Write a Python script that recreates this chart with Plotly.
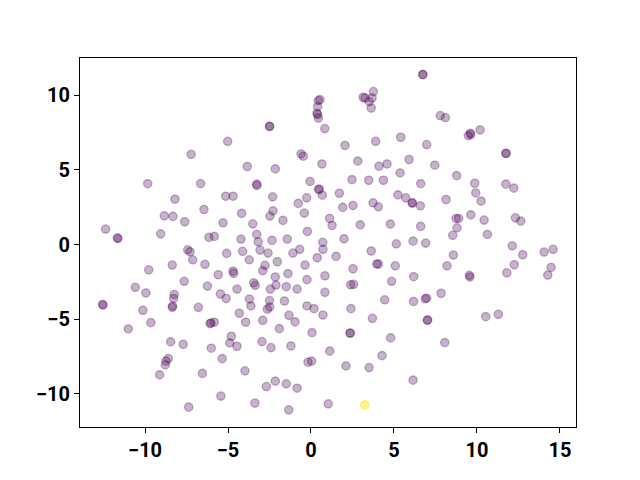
import plotly.graph_objects as go

x_vals = [
    -7.22, -9.84, -6.65, 0.54, 0.44, 0.40, 0.36, 0.40, 0.44, 0.83,
    -2.49, -2.50, -5.02, -0.60, -0.46, -3.84, -2.15, 0.66, -0.06, -3.27,
    6.73, 6.75, 3.26, 3.15, 3.76, 3.68, 3.51, 3.63, 7.79, 8.10,
    2.05, 3.90, 5.41, 6.97, 2.82, 4.10, 4.58, 5.91, 7.46, 5.37,
    2.47, 3.48, 4.36, 6.61, 8.78, 9.48, 9.63, 9.60, 10.19, 11.74,
    11.76, 9.87, 11.74, -8.20, -8.84, -8.32, -7.61, -6.45, -12.38, -11.63,
    -11.67, -9.06, -6.15, -7.43, -7.29, -7.13, -6.39, -8.36, -9.78, -7.64,
    -10.59, -9.95, -8.24, -8.28, -6.24, -12.56, -12.53, -3.26, 0.46, 0.50,
    0.68, -5.14, -4.70, -2.31, -0.77, -0.26, -4.18, -2.47, -2.29, -0.40,
    -1.69, 1.12, 1.27, -5.30, -3.51, -0.22, -5.83, -4.22, -3.27, -3.18,
    -2.35, -1.43, 0.71, 0.72, -5.08, -4.12, -3.07, -2.59, -1.09, -0.68,
    0.38, 1.51, -3.72, -2.03, -2.77, -2.91, -0.36, -4.70, -4.66, -5.59,
    -1.39, -2.15, -0.24, 0.84, -3.45, -3.36, -4.46, -2.11, -1.49, -0.84,
    -2.45, 0.84, -5.46, -5.11, -3.71, -3.62, -2.50, -2.49, -2.63, -1.60,
    1.71, 5.24, 5.71, 6.09, 6.12, 6.59, 8.14, 1.91, 2.53, 3.74,
    4.06, 2.97, 4.78, 6.61, 8.74, 8.90, 8.80, 8.54, 1.99, 5.14,
    6.15, 6.91, 3.63, 8.58, 3.96, 4.06, 5.08, 2.53, 8.20, 6.19,
    4.86, 2.39, 2.57, 7.84, 4.44, 6.18, 6.89, 6.97, 9.93, 10.25,
    12.22, 9.63, 10.43, 10.63, 12.32, 12.64, 12.13, 12.76, 14.05, 14.59,
    12.25, 11.80, 14.47, 14.27, 9.54, 9.58, -10.13, -8.36, -8.34, -6.79,
    -6.08, -6.03, -5.83, -9.65, -11.01, -8.46, -7.70, -6.01, -8.60, -8.74,
    -8.78, -9.12, -6.55, -7.37, -0.24, 0.18, 0.72, -4.32, -3.94, -2.91,
    -1.33, -0.96, -1.91, 0.06, -4.80, -4.90, -4.46, -2.95, -2.41, -1.21,
    1.13, -5.35, -0.18, 0.04, -3.98, -2.15, -1.49, -0.84, -2.69, -5.43,
    -3.38, -1.34, 1.04, 2.41, 3.70, 7.01, 7.03, 2.35, 2.37, 4.80,
    8.06, 4.28, 2.11, 3.50, 6.15, 10.53, 11.29, 3.24, 3.24,
]

y_vals = [
    6.05, 4.08, 4.08, 9.71, 9.65, 9.24, 8.80, 8.71, 8.48, 7.77,
    7.93, 7.91, 6.92, 6.07, 5.92, 5.23, 5.07, 5.40, 4.23, 4.05,
    11.40, 11.38, 9.82, 9.87, 10.25, 9.82, 9.58, 9.15, 8.64, 8.51,
    6.64, 6.92, 7.19, 6.70, 5.59, 5.25, 5.40, 5.70, 5.32, 4.80,
    4.35, 4.31, 4.31, 4.08, 4.62, 7.30, 7.37, 7.46, 7.68, 6.12,
    6.10, 4.11, 4.05, 3.04, 1.93, 1.89, 1.53, 2.35, 1.04, 0.40,
    0.45, 0.72, 0.48, -0.35, -0.48, -1.02, -1.32, -1.37, -1.69, -2.46,
    -2.86, -3.24, -3.34, -3.61, -2.78, -4.01, -4.05, 3.96, 3.69, 3.72,
    3.31, 3.24, 3.24, 3.20, 2.76, 3.13, 2.09, 1.91, 2.26, 2.11,
    1.62, 1.75, 1.28, 1.46, 1.39, 0.88, 0.55, 0.37, 0.68, 0.19,
    0.28, 0.37, 0.15, -0.32, -0.59, -0.45, -0.37, -0.57, -0.57, -0.32,
    -0.88, -0.79, -1.02, -1.15, -1.39, -1.75, -1.37, -1.78, -1.92, -2.02,
    -1.95, -2.17, -2.35, -2.09, -2.56, -2.73, -2.98, -2.71, -2.82, -2.98,
    -2.98, -3.20, -3.31, -3.61, -3.65, -4.11, -3.75, -4.18, -4.33, -3.78,
    3.44, 3.33, 3.13, 2.80, 2.78, 2.60, 3.02, 2.49, 2.62, 2.80,
    2.53, 1.32, 1.37, 1.22, 1.75, 1.75, 1.12, 0.62, 0.39, 0.05,
    0.23, 0.10, -0.43, -0.70, -1.30, -1.30, -1.42, -1.62, -1.42, -2.15,
    -2.46, -2.69, -2.66, -3.26, -3.70, -3.81, -3.63, -3.59, 3.46, 2.91,
    3.78, 1.99, 1.64, 0.68, 1.79, 1.57, -0.08, -0.68, -0.50, -0.32,
    -1.35, -1.89, -1.53, -2.04, -2.06, -2.17, -4.40, -4.20, -4.12, -4.20,
    -5.30, -5.25, -5.20, -5.23, -5.65, -6.52, -6.68, -6.94, -7.64, -7.81,
    -8.06, -8.73, -8.63, -10.89, -4.11, -4.29, -4.72, -4.60, -5.20, -5.07,
    -4.74, -5.18, -5.63, -5.90, -6.14, -6.59, -6.81, -6.50, -6.90, -6.79,
    -7.14, -7.64, -7.88, -7.81, -8.46, -9.15, -9.33, -9.62, -9.51, -10.15,
    -10.62, -11.07, -10.67, -4.29, -4.94, -5.07, -5.05, -5.94, -5.92, -6.25,
    -6.57, -7.44, -8.13, -8.24, -9.08, -4.83, -4.67, -10.74, -10.74,
]

# class labels (viridis colour scale: 0 -> purple, 1 -> yellow)
labels = [0] * (len(x_vals) - 2) + [1, 1]

x_ticks = [-10, -5, 0, 5, 10, 15]
y_ticks = [-10, -5, 0, 5, 10]


def fmt(v):
    return ("\u2212" + str(abs(v))) if v < 0 else str(v)


viridis_low = (68, 1, 84)
viridis_high = (253, 231, 37)
alpha = 0.3


def rgba(c):
    return "rgba(%d,%d,%d,%.2f)" % (c[0], c[1], c[2], alpha)


colors = [rgba(viridis_high if l == 1 else viridis_low) for l in labels]

fig = go.Figure(
    go.Scatter(
        x=x_vals,
        y=y_vals,
        mode="markers",
        marker=dict(
            size=8.3,
            color=colors,
            line=dict(color=colors, width=1.3),
        ),
        showlegend=False,
        hoverinfo="skip",
    )
)

axis_common = dict(
    showgrid=False,
    zeroline=False,
    showline=True,
    mirror=True,
    linecolor="black",
    linewidth=1.1,
    ticks="outside",
    ticklen=5,
    tickwidth=1.1,
    tickcolor="black",
    tickfont=dict(family="Roboto", size=20, color="black", weight="bold"),
)

fig.update_layout(
    width=632,
    height=472,
    autosize=False,
    paper_bgcolor="white",
    plot_bgcolor="white",
    margin=dict(l=72, r=64, t=50, b=53, pad=0),
    xaxis=dict(
        range=[-13.92, 15.97],
        tickvals=x_ticks,
        ticktext=[fmt(v) for v in x_ticks],
        **axis_common,
    ),
    yaxis=dict(
        range=[-12.22, 12.5],
        tickvals=y_ticks,
        ticktext=[fmt(v) for v in y_ticks],
        **axis_common,
    ),
)

fig.write_html("out.html")
